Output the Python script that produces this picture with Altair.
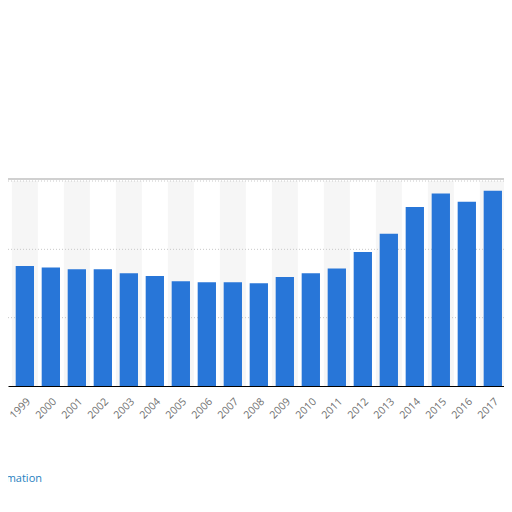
import altair as alt
import pandas as pd

years = list(range(1998, 2018))
values = [1.825, 1.756, 1.733, 1.708, 1.708, 1.650, 1.610, 1.533, 1.518, 1.518,
          1.504, 1.596, 1.650, 1.718, 1.961, 2.229, 2.618, 2.818, 2.696, 2.857]
band_years = [y for y in range(1997, 2019) if y % 2 == 1]
grid_values = [1, 2, 3]

bars_df = pd.DataFrame({"year": years, "value": values})
bands_df = pd.DataFrame({"year": band_years})

xscale = alt.Scale(domain=[1998.352, 2017.43], nice=False, zero=False)
yscale = alt.Scale(domain=[0, 3], nice=False)

xaxis = alt.Axis(
    values=years,
    format="d",
    labelAngle=-45,
    labelAlign="right",
    labelBaseline="top",
    labelColor="#707070",
    labelFont="Open Sans",
    labelFontSize=10.5,
    labelPadding=10,
    labelOffset=0,
    ticks=False,
    domain=True,
    domainColor="#000000",
    domainWidth=1,
    grid=False,
    title=None,
    labelOverlap=False,
    labelBound=False,
    labelFlush=False,
)

bands = alt.Chart(bands_df).transform_calculate(
    x0="datum.year - 0.5", x1="datum.year + 0.5"
).mark_rect(color="#f6f6f6", clip=True).encode(
    x=alt.X("x0:Q", scale=xscale, axis=xaxis),
    x2="x1:Q",
    y=alt.value(0),
    y2=alt.value(205),
)

grid = alt.Chart(pd.DataFrame({"g": grid_values})).mark_rule(
    color="#c8c8c8", strokeDash=[1, 2], strokeWidth=1
).encode(y=alt.Y("g:Q", scale=yscale, axis=None))

bars = alt.Chart(bars_df).transform_calculate(
    x0="datum.year - 0.352", x1="datum.year + 0.352"
).mark_rect(color="#2876d8", clip=True).encode(
    x=alt.X("x0:Q", scale=xscale, axis=xaxis),
    x2="x1:Q",
    y=alt.Y("value:Q", scale=yscale, axis=None),
    y2=alt.datum(0),
)

frame_top = alt.Chart(pd.DataFrame({"a": [0]})).mark_rule(
    color="#d0d0d0", strokeWidth=2
).encode(x=alt.value(0), x2=alt.value(496), y=alt.value(-2))

info = alt.Chart(pd.DataFrame({"t": ["Additional Information"]})).mark_text(
    align="right", baseline="middle", font="Open Sans", fontSize=11, color="#1f7fc0"
).encode(text="t:N", x=alt.value(34), y=alt.value(298))

chart = alt.layer(bands, grid, bars, frame_top, info).properties(
    width=496,
    height=205,
    autosize=alt.AutoSizeParams(type="none"),
    padding={"left": 0, "right": 0, "top": 173, "bottom": 118},
).configure_view(stroke=None)

chart.save("out.html", embed_options={"renderer": "svg", "actions": False})
